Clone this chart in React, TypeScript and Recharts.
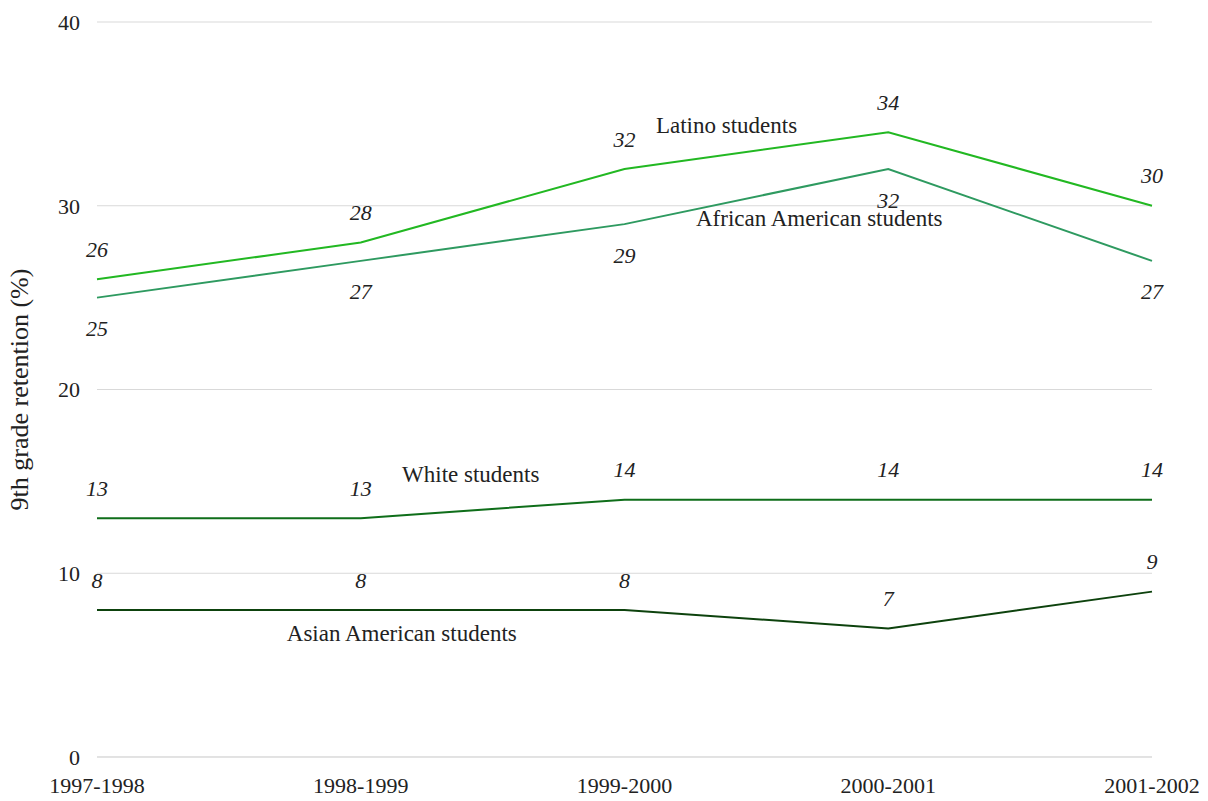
import React from "react";
import {
  LineChart,
  Line,
  XAxis,
  YAxis,
  CartesianGrid,
  LabelList,
} from "recharts";

const years = ["1997-1998", "1998-1999", "1999-2000", "2000-2001", "2001-2002"];
const latino = [26, 28, 32, 34, 30];
const africanAmerican = [25, 27, 29, 32, 27];
const white = [13, 13, 14, 14, 14];
const asianAmerican = [8, 8, 8, 7, 9];
const yTicks = [0, 10, 20, 30, 40];

const data = years.map((year, i) => ({
  year,
  latino: latino[i],
  africanAmerican: africanAmerican[i],
  white: white[i],
  asianAmerican: asianAmerican[i],
}));

const FONT = "'Liberation Serif', 'DejaVu Serif', serif";

// value label, dy = distance from the point to the label centre
const valueLabel = (dy: number) => (props: any) => {
  const { x, y, value } = props;
  return (
    <text
      x={x}
      y={y + dy}
      textAnchor="middle"
      dominantBaseline="central"
      fontFamily={FONT}
      fontStyle="italic"
      fontSize={22}
      fill="#222"
    >
      {value}
    </text>
  );
};

// series name drawn next to one of its points
const nameLabel = (name: string, at: number, dx: number, dy: number) => (props: any) => {
  const { x, y, index } = props;
  if (index !== at) return null;
  return (
    <text
      x={x + dx}
      y={y + dy}
      textAnchor="middle"
      dominantBaseline="central"
      fontFamily={FONT}
      fontSize={23}
      fill="#222"
    >
      {name}
    </text>
  );
};

export default function App() {
  return (
    <div style={{ position: "absolute", left: 0, top: 0, background: "#fff" }}>
      <LineChart
        width={1208}
        height={801}
        data={data}
        margin={{ top: 22, right: 56, left: 0, bottom: 0 }}
      >
        <CartesianGrid vertical={false} stroke="#d9d9d9" />
        <XAxis
          dataKey="year"
          axisLine={{ stroke: "#d9d9d9" }}
          tickLine={false}
          height={44}
          tickMargin={14}
          tick={{ fontFamily: FONT, fontSize: 22, fill: "#222" }}
        />
        <YAxis
          domain={[0, 40]}
          ticks={yTicks}
          width={97}
          axisLine={false}
          tickLine={false}
          tickMargin={11}
          tick={{ fontFamily: FONT, fontSize: 22, fill: "#222" }}
          label={{
            value: "9th grade retention (%)",
            angle: -90,
            position: "insideLeft",
            dx: 14,
            style: { fontFamily: FONT, fontSize: 26, fill: "#222", textAnchor: "middle" },
          }}
        />
        <Line
          dataKey="latino"
          stroke="#22b822"
          strokeWidth={2}
          dot={false}
          isAnimationActive={false}
        >
          <LabelList dataKey="latino" content={valueLabel(-30)} />
          <LabelList dataKey="latino" content={nameLabel("Latino students", 2, 102, -44)} />
        </Line>
        <Line
          dataKey="africanAmerican"
          stroke="#2e9a60"
          strokeWidth={2}
          dot={false}
          isAnimationActive={false}
        >
          <LabelList dataKey="africanAmerican" content={valueLabel(31)} />
          <LabelList
            dataKey="africanAmerican"
            content={nameLabel("African American students", 3, -69, 49)}
          />
        </Line>
        <Line
          dataKey="white"
          stroke="#0f6e1a"
          strokeWidth={2}
          dot={false}
          isAnimationActive={false}
        >
          <LabelList dataKey="white" content={valueLabel(-30)} />
          <LabelList dataKey="white" content={nameLabel("White students", 1, 110, -44)} />
        </Line>
        <Line
          dataKey="asianAmerican"
          stroke="#0d420d"
          strokeWidth={2}
          dot={false}
          isAnimationActive={false}
        >
          <LabelList dataKey="asianAmerican" content={valueLabel(-30)} />
          <LabelList
            dataKey="asianAmerican"
            content={nameLabel("Asian American students", 1, 41, 23)}
          />
        </Line>
      </LineChart>
    </div>
  );
}
